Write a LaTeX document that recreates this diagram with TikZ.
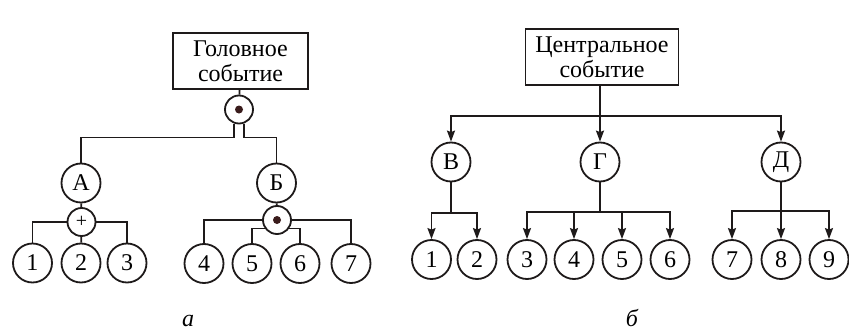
\documentclass[tikz,border=0pt]{standalone}
\usepackage{fontspec}
\setmainfont{Liberation Serif}
\usetikzlibrary{arrows.meta}
\definecolor{ink}{HTML}{1E1A1A}
\definecolor{dotc}{HTML}{3A1C1C}
\tikzset{
  ev/.style={draw=ink, line width=1.8pt, minimum width=#1, minimum height=56pt, inner sep=0pt, align=center, font=\fontsize{24}{25}\selectfont},
  cn/.style={draw=ink, line width=1.8pt, circle, minimum size=39pt, inner sep=0pt, font=\fontsize{24}{25}\selectfont},
  gate/.style={draw=ink, line width=1.8pt, circle, minimum size=28pt, inner sep=0pt},
  ln/.style={draw=ink, line width=1.8pt},
  arr/.style={ln, -{Stealth[length=11pt, width=8pt, inset=1.5pt]}},
  lab/.style={font=\fontsize{24}{25}\selectfont\itshape}
}
\begin{document}
\begin{tikzpicture}[x=1pt, y=-1pt]
\useasboundingbox (0,0) rectangle (849,332);
% ---------- a ----------
\node[ev=135pt] (top) at (240.5,61) {Головное\\событие};
\node[gate] (g0) at (239,109.5) {};
\fill[dotc] (g0.center) circle (4pt);
\node[cn] (nA) at (81,183) {А};
\node[cn] (nB) at (276.5,183) {Б};
\node[gate] (gA) at (81.5,222) {\fontsize{20}{20}\selectfont +};
\node[gate] (gB) at (277,220) {};
\fill[dotc] (gB.center) circle (4pt);
\node[cn] (a1) at (32.5,263) {1};
\node[cn] (a2) at (81,263) {2};
\node[cn] (a3) at (127,263) {3};
\node[cn] (a4) at (204,263.5) {4};
\node[cn] (a5) at (252,263.5) {5};
\node[cn] (a6) at (300,263.5) {6};
\node[cn] (a7) at (351,263.5) {7};
\draw[ln] (top) -- (g0);
\draw[ln] (g0.-110) -- ++(0,14) -| (nA.north);
\draw[ln] (g0.-70) -- ++(0,14) -| (nB.north);
\draw[ln] (nA) -- (gA);
\draw[ln] (gA.west) -| (a1.north);
\draw[ln] (gA) -- (a2);
\draw[ln] (gA.east) -| (a3.north);
\draw[ln] (nB) -- (gB);
\draw[ln] (gB.west) -| (a4.north);
\draw[ln] (gB.east) -| (a7.north);
\draw[ln] (gB.-145) -| (a5.north);
\draw[ln] (gB.-35) -| (a6.north);
\node[lab] (la) at (188,321) {а};
% ---------- б ----------
\node[ev=153pt] (ctr) at (602,57) {Центральное\\событие};
\node[cn] (nV) at (451,162) {В};
\node[cn] (nG) at (600,162) {Г};
\node[cn] (nD) at (781,162) {Д};
\node[cn] (b1) at (431.5,259.5) {1};
\node[cn] (b2) at (477,259.5) {2};
\node[cn] (b3) at (527,259.5) {3};
\node[cn] (b4) at (574,259.5) {4};
\node[cn] (b5) at (622,259.5) {5};
\node[cn] (b6) at (670,259.5) {6};
\node[cn] (b7) at (732,259.5) {7};
\node[cn] (b8) at (781,259.5) {8};
\node[cn] (b9) at (829,259.5) {9};
\coordinate (bus) at (600,116);
\coordinate (jV) at (451,213);
\coordinate (jG) at (600,212);
\coordinate (jD) at (781,211);
\draw[arr] (ctr.south -| nG) -- (nG);
\draw[arr] (bus) -| (nV);
\draw[arr] (bus) -| (nD);
\draw[ln] (nV) -- (jV);
\draw[arr] (jV) -| (b1);
\draw[arr] (jV) -| (b2);
\draw[ln] (nG) -- (jG);
\draw[arr] (jG) -| (b3);
\draw[arr] (jG) -| (b4);
\draw[arr] (jG) -| (b5);
\draw[arr] (jG) -| (b6);
\draw[arr] (nD) -- (b8);
\draw[arr] (jD) -| (b7);
\draw[arr] (jD) -| (b9);
\node[lab] (lb) at (632,318) {б};
\end{tikzpicture}
\end{document}
